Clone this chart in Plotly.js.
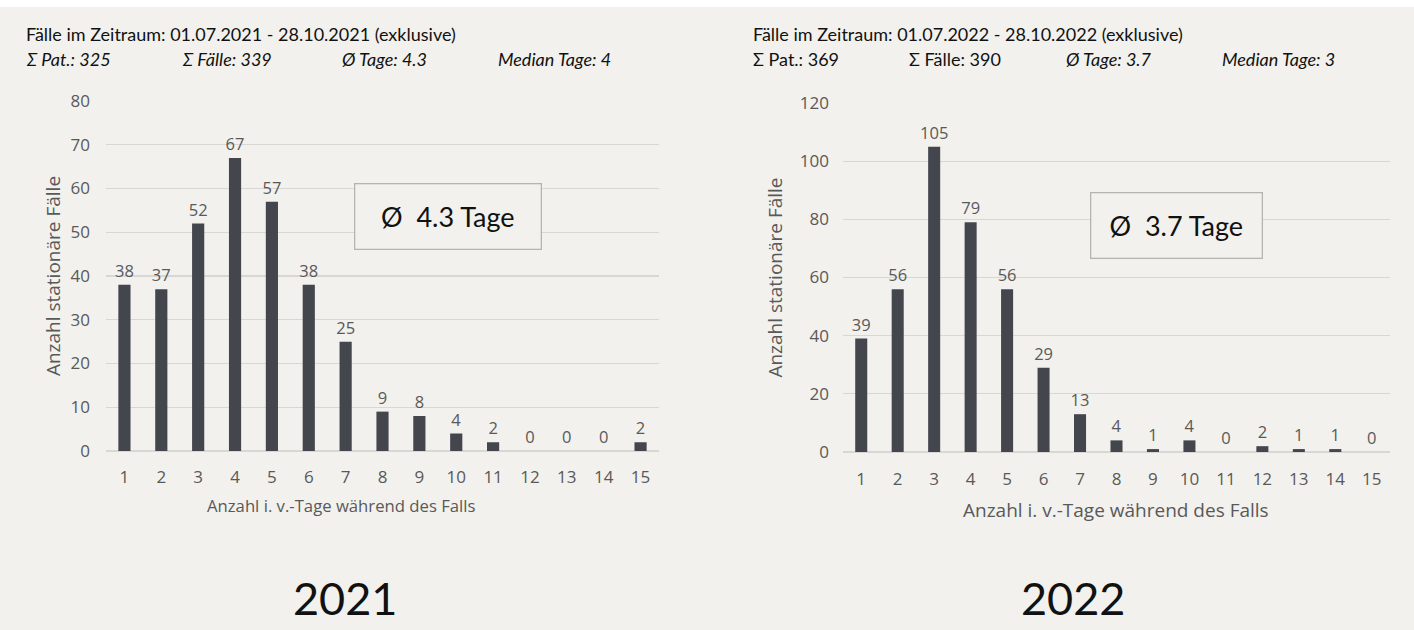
<!DOCTYPE html>
<html>
<head>
<meta charset="utf-8">
<script src="https://cdn.plot.ly/plotly-3.0.1.min.js"></script>
<style>html,body{margin:0;padding:0;background:#f2f1ed;}#chart{width:1414px;height:630px;}</style>
</head>
<body>
<div id="chart"></div>
<script>
const days = ["1","2","3","4","5","6","7","8","9","10","11","12","13","14","15"];
const cases2021 = [38,37,52,67,57,38,25,9,8,4,2,0,0,0,2];
const cases2022 = [39,56,105,79,56,29,13,4,1,4,0,2,1,1,0];
const yTitle = "Anzahl stationäre Fälle";
const xTitle = "Anzahl i. v.-Tage während des Falls";
const header2021 = "Fälle im Zeitraum: 01.07.2021 - 28.10.2021 (exklusive)";
const header2022 = "Fälle im Zeitraum: 01.07.2022 - 28.10.2022 (exklusive)";
const stats2021 = ["<i>Σ Pat.: 325</i>", "<i>Σ Fälle: 339</i>", "<i>Ø Tage: 4.3</i>", "<i>Median Tage: 4</i>"];
const stats2022 = ["Σ Pat.: 369", "Σ Fälle: 390", "<i>Ø Tage: 3.7</i>", "<i>Median Tage: 3</i>"];
const avgBox2021 = "Ø  4.3 Tage";
const avgBox2022 = "Ø  3.7 Tage";
const yearLabels = ["2021", "2022"];

const W = 1414, H = 630;
const px = v => v / W;
const py = v => 1 - v / H;

const BAR = '#44464e';
const TXT = '#595959';
const SANS = 'Open Sans, Noto Sans, sans-serif';
const TICKFONT = {family: SANS, size: 17, color: TXT};

function barTrace(vals, xa, ya) {
  return {type: 'bar', x: days, y: vals, xaxis: xa, yaxis: ya, marker: {color: BAR}, width: 0.33,
    text: vals.map(String), textposition: 'outside', cliponaxis: false, constraintext: 'none', textangle: 0,
    textfont: {family: SANS, size: 16.5, color: TXT}, hoverinfo: 'x+y'};
}
const traces = [barTrace(cases2021, 'x', 'y'), barTrace(cases2022, 'x2', 'y2')];

function xax(domain, anchor, off) {
  return {domain: domain, anchor: anchor, type: 'category', showgrid: false, zeroline: false,
    showline: false, ticks: '', tickfont: TICKFONT, ticklabelstandoff: off};
}
function yax(domain, anchor, range, dtick, lblOff, titleOff) {
  return {domain: domain, anchor: anchor, range: range, dtick: dtick, showgrid: true, gridcolor: '#d8d7d4', gridwidth: 1.3,
    zeroline: true, zerolinecolor: '#d8d7d4', zerolinewidth: 1.3, showline: false, ticks: '', tickfont: TICKFONT,
    ticklabelstandoff: lblOff,
    title: {text: yTitle, font: {family: SANS, size: 19, color: TXT}, standoff: titleOff}};
}

const HF = {family: 'Lato, Carlito, sans-serif', size: 18, color: '#111'};
const annotations = [];
function header(x0, text, stats, statX) {
  annotations.push({xref: 'paper', yref: 'paper', x: px(x0), y: py(34), xanchor: 'left', yanchor: 'middle',
    text: text, showarrow: false, font: HF});
  stats.forEach((s, i) => annotations.push({xref: 'paper', yref: 'paper', x: px(statX[i]), y: py(59),
    xanchor: 'left', yanchor: 'middle', text: s, showarrow: false, font: HF}));
}
header(24, header2021, stats2021, [24, 180, 340, 496]);
header(751, header2022, stats2022, [751, 907, 1064, 1220]);

// x-axis titles
annotations.push({xref: 'paper', yref: 'paper', x: px(341), y: py(505), xanchor: 'center', yanchor: 'middle',
  text: xTitle, showarrow: false, font: {family: SANS, size: 16.7, color: TXT}});
annotations.push({xref: 'paper', yref: 'paper', x: px(1116), y: py(510), xanchor: 'center', yanchor: 'middle',
  text: xTitle, showarrow: false, font: {family: SANS, size: 19, color: TXT}});

const BOXFONT = {family: 'Lato, Carlito, sans-serif', size: 27, color: '#111'};
annotations.push({xref: 'paper', yref: 'paper', x: px(448), y: py(216), xanchor: 'center', yanchor: 'middle',
  text: avgBox2021, showarrow: false, width: 183, height: 62, borderwidth: 1.3, bordercolor: '#b5b4b1',
  bgcolor: '#f2f1ed', font: BOXFONT});
annotations.push({xref: 'paper', yref: 'paper', x: px(1176), y: py(225), xanchor: 'center', yanchor: 'middle',
  text: avgBox2022, showarrow: false, width: 168, height: 62, borderwidth: 1.3, bordercolor: '#b5b4b1',
  bgcolor: '#f2f1ed', font: BOXFONT});

annotations.push({xref: 'paper', yref: 'paper', x: px(345), y: py(598), xanchor: 'center', yanchor: 'middle',
  text: yearLabels[0], showarrow: false, font: {family: 'Lato, Carlito, sans-serif', size: 45, color: '#111'}});
annotations.push({xref: 'paper', yref: 'paper', x: px(1073), y: py(598), xanchor: 'center', yanchor: 'middle',
  text: yearLabels[1], showarrow: false, font: {family: 'Lato, Carlito, sans-serif', size: 45, color: '#111'}});

const layout = {
  width: W, height: H,
  margin: {l: 0, r: 0, t: 0, b: 0},
  paper_bgcolor: '#f2f1ed', plot_bgcolor: 'rgba(0,0,0,0)',
  showlegend: false, bargap: 0.67,
  xaxis: xax([px(106), px(659)], 'y', 14),
  yaxis: yax([py(451), py(101)], 'x', [0, 80], 10, 15, 4),
  xaxis2: xax([px(843), px(1390)], 'y2', 15),
  yaxis2: yax([py(452), py(103)], 'x2', [0, 120], 20, 13, 12),
  shapes: [{type: 'rect', xref: 'paper', yref: 'paper', x0: 0, x1: 1, y0: py(7), y1: 1, fillcolor: '#ffffff', line: {width: 0}, layer: 'below'}],
  annotations: annotations
};

Plotly.newPlot('chart', traces, layout, {displayModeBar: false, staticPlot: true});
</script>
</body>
</html>
